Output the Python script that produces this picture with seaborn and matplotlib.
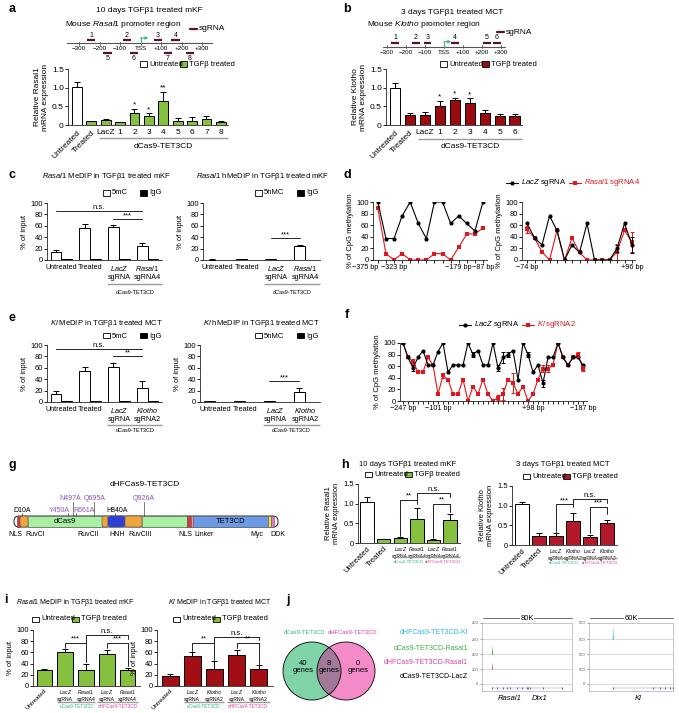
import numpy as np
import pandas as pd
import matplotlib
matplotlib.use('Agg')
import matplotlib.pyplot as plt
import seaborn as sns
from matplotlib.patches import Rectangle, Circle, FancyBboxPatch
from matplotlib.lines import Line2D
from matplotlib.transforms import blended_transform_factory as btf

# ---------------- data ----------------
a_labels = ['Untreated', 'Treated', 'LacZ', '1', '2', '3', '4', '5', '6', '7', '8']
a_vals = [1.03, 0.10, 0.13, 0.07, 0.32, 0.23, 0.65, 0.12, 0.12, 0.17, 0.09]
a_errs = [0.13, 0.01, 0.03, 0.01, 0.12, 0.08, 0.23, 0.07, 0.10, 0.08, 0.01]
a_stars = ['', '', '', '', '*', '*', '**', '', '', '', '']
a_sg_pos = [-241, -66, 85, 171, -161, -32, 134, 241]
a_sg_up = [True, True, True, True, False, False, False, False]
a_sg_names = ['1', '2', '3', '4', '5', '6', '7', '8']
prom_ticks = [-300, -200, -100, 0, 100, 200, 300]
prom_tick_lbls = ['−300', '−200', '−100', 'TSS', '+100', '+200', '+300']

b_labels = ['Untreated', 'Treated', 'LacZ', '1', '2', '3', '4', '5', '6']
b_vals = [1.00, 0.27, 0.28, 0.51, 0.66, 0.58, 0.33, 0.25, 0.24]
b_errs = [0.12, 0.06, 0.08, 0.14, 0.07, 0.13, 0.07, 0.04, 0.05]
b_stars = ['', '', '', '*', '*', '*', '', '', '']
b_sg_pos = [-258, -147, -87, 58, 225, 279]
b_sg_up = [True] * 6
b_sg_names = ['1', '2', '3', '4', '5', '6']

c_5mc = [14, 56, 58, 25]
c_5mc_err = [4, 7, 4, 4]
c_igg = [1.5, 1.2, 1.2, 1.2]
c_5hmc = [0.6, 1.5, 1.2, 25]
c_5hmc_err = [0.3, 0.3, 0.3, 1.5]
c_igg2 = [0.6, 0.6, 0.6, 0.8]
e_5mc = [14, 55, 62, 25]
e_5mc_err = [5, 7, 7, 12]
e_igg = [1.5, 1.2, 1.2, 1.2]
e_5hmc = [2, 1.5, 1, 17]
e_5hmc_err = [0.5, 0.3, 0.3, 8]
e_igg2 = [0.6, 0.6, 0.6, 0.6]

d_left_lacz = [100, 37, 37, 76, 100, 63, 37, 100, 100, 63, 76, 63, 50, 100]
d_left_sg = [89, 11, 0, 11, 0, 0, 0, 11, 11, 0, 22, 45, 45, 55]
d_left_lbl = {0: '−375 bp', 2: '−323 bp', 10: '−179 bp', 13: '−87 bp'}
d_right_lacz = [63, 38, 26, 76, 51, 0, 26, 13, 63, 0, 0, 0, 20, 63, 26]
d_right_lacz_err = [0, 0, 0, 0, 0, 0, 0, 0, 0, 0, 0, 0, 6, 0, 14]
d_right_sg = [53, 38, 14, 0, 51, 0, 38, 13, 0, 0, 0, 0, 14, 51, 31]
d_right_sg_err = [6, 0, 0, 0, 0, 0, 0, 0, 0, 0, 0, 0, 14, 0, 18]
d_right_lbl = {0: '−74 bp', 14: '+96 bp'}

f_lacz = [100, 75, 57, 75, 87, 62, 62, 85, 100, 50, 62, 62, 62, 100, 80, 87, 62, 62, 100,
          57, 75, 80, 87, 37, 100, 80, 50, 62, 31, 75, 75, 100, 75, 62, 75, 75, 62]
f_lacz_err = [0, 0, 5, 0, 0, 0, 0, 0, 0, 0, 0, 0, 0, 0, 5, 0, 0, 0, 0,
              5, 10, 5, 0, 0, 0, 4, 0, 0, 6, 0, 0, 0, 0, 0, 0, 0, 0]
f_sg = [100, 75, 68, 50, 50, 75, 62, 12, 44, 37, 12, 12, 37, 0, 25, 12, 37, 12, 0,
        6, 12, 37, 31, 12, 25, 0, 12, 37, 56, 56, 62, 100, 75, 62, 75, 80, 56]
f_sg_err = [0, 0, 5, 0, 0, 0, 0, 0, 5, 0, 0, 0, 0, 0, 0, 0, 0, 0, 0,
            5, 10, 0, 18, 0, 0, 0, 0, 0, 6, 6, 0, 0, 0, 0, 0, 5, 5]
f_lbl = {0: '−247 bp', 7: '−101 bp', 26: '+98 bp', 36: '−187 bp'}

h_left_vals = [1.03, 0.09, 0.13, 0.60, 0.08, 0.58]
h_left_errs = [0.13, 0.01, 0.02, 0.30, 0.01, 0.15]
h_right_vals = [1.03, 0.22, 0.23, 0.60, 0.21, 0.57]
h_right_errs = [0.06, 0.08, 0.08, 0.22, 0.05, 0.06]

i_left_vals = [28, 60, 29, 58, 29]
i_left_errs = [3, 6, 11, 6, 3]
i_right_vals = [18, 54, 31, 55, 31]
i_right_errs = [3, 7, 14, 10, 7]

venn_counts = ['40', '8', '0']
venn_sets = ['dCas9-TET3CD', 'dHFCas9-TET3CD']
trk_lbls = ['dHFCas9-TET3CD-Kl', 'dCas9-TET3CD-Rasal1', 'dHFCas9-TET3CD-Rasal1', 'dCas9-TET3CD-LacZ']
trk_cols = ['#29b6e6', '#3cb043', '#e040a8', 'black']
pk_track = [0, 0, 1]
pk_row = [1, 2, 0]
pk_kb = [8.9, 8.9, 17]
pk_h = [0.7, 0.55, 0.95]
pk_col = ['#3cb043', '#e040a8', '#29b6e6']
trk_span = [80, 60]
trk_names = ['80K', '60K']
trk_ymax = ['250', '500']
gene_marks = [[8.9, 13, 18.7, 22, 24.9, 31, 35.6, 40, 40.9, 42.7, 54.2, 71],
              [17, 45.7, 50.7, 54.3, 57.8, 60]]

GREEN = '#86c03f'
RED_B = '#9a0b10'
RED_H = '#b3192b'
RED_I = '#a10f14'
RED_L = '#e3151b'
SGC = '#5a1030'
TSSG = '#3cb371'
GRP_G = '#2bb673'
GRP_M = '#e0409a'
PURP = '#8a55b0'

sns.set_theme(style='ticks')
plt.rcParams['font.family'] = ['Liberation Sans', 'DejaVu Sans']
plt.rcParams['mathtext.fontset'] = 'custom'
plt.rcParams['mathtext.rm'] = 'Liberation Sans'
plt.rcParams['mathtext.it'] = 'Liberation Sans:italic'
plt.rcParams['axes.linewidth'] = 0.6
plt.rcParams['text.color'] = 'black'
plt.rcParams['axes.labelcolor'] = 'black'
plt.rcParams['xtick.color'] = 'black'
plt.rcParams['ytick.color'] = 'black'

W, H = 679, 713
fig = plt.figure(figsize=(W / 100, H / 100), dpi=100)


def axpx(x0, y0, x1, y1):
    return fig.add_axes([x0 / W, 1 - y1 / H, (x1 - x0) / W, (y1 - y0) / H])


def T(x, y, s, fs=5.5, ha='center', va='center', **kw):
    fig.text(x / W, 1 - y / H, s, fontsize=fs, ha=ha, va=va, **kw)


def sq(x, y, fc, w=7, h=5):
    fig.add_artist(Rectangle((x / W, 1 - (y + h / 2) / H), w / W, h / H,
                             transform=fig.transFigure, fc=fc, ec='black', lw=0.6))


def legend_px(y, xs, labels, colors, fs=5.5):
    for x, lab, c in zip(xs, labels, colors):
        sq(x, y, c)
        T(x + 9, y, lab, fs=fs, ha='left')


def fline(x0, x1, y, color, lw=0.8, marker=None):
    fig.add_artist(Line2D([x0 / W, x1 / W], [1 - y / H] * 2, transform=fig.transFigure,
                          color=color, lw=lw))
    if marker:
        fig.add_artist(Line2D([(x0 + x1) / 2 / W], [1 - y / H], transform=fig.transFigure,
                              color=color, marker=marker, markersize=3, mew=0))


def it(s):
    return r'$\it{' + s + '}$'


def bar_panel(ax, vals, errs, colors, width):
    ids = [f'b{i}' for i in range(len(vals))]
    df = pd.DataFrame({'id': ids, 'val': vals})
    sns.barplot(data=df, x='id', y='val', hue='id', palette=dict(zip(ids, colors)),
                legend=False, width=width, edgecolor='black', linewidth=0.7,
                errorbar=None, saturation=1, ax=ax)
    ax.errorbar(np.arange(len(vals)), vals, yerr=[np.zeros(len(vals)), errs], fmt='none',
                ecolor='black', elinewidth=0.7, capsize=2, capthick=0.7, zorder=3)


def medip(ax, vals, errs, igg):
    n = len(vals)
    df = pd.DataFrame({'g': np.tile(np.arange(n), 2), 't': ['A'] * n + ['B'] * n,
                       'v': list(vals) + list(igg)})
    sns.barplot(data=df, x='g', y='v', hue='t', palette={'A': 'white', 'B': 'black'},
                width=0.75, edgecolor='black', linewidth=0.7, legend=False,
                errorbar=None, saturation=1, ax=ax)
    xs = [p.get_x() + p.get_width() / 2 for p in ax.containers[0]]
    ax.errorbar(xs, vals, yerr=[np.zeros(n), errs], fmt='none', ecolor='black',
                elinewidth=0.7, capsize=2, capthick=0.7, zorder=3)
    return xs


def style(ax, ylim, yticks, ylbls, fs=5.5):
    sns.despine(ax=ax)
    ax.set_ylim(*ylim)
    ax.set_yticks(yticks)
    ax.set_yticklabels(ylbls)
    ax.tick_params(axis='y', length=2, width=0.6, labelsize=fs, pad=1)
    ax.tick_params(axis='x', length=0, labelsize=fs, pad=3)
    ax.set_xlabel('')
    ax.set_ylabel('')
    ax.patch.set_alpha(0)


def rot_first(ax, n, fs=6):
    for lbl in ax.get_xticklabels()[:n]:
        lbl.set_rotation(45)
        lbl.set_ha('right')
        lbl.set_rotation_mode('anchor')
        lbl.set_fontsize(fs)


def group_line(ax, x0, x1, ypx, text=None, typx=None, fs=5.5, tcolor='black',
               color='#9a9a9a', lw=1.0):
    tr = btf(ax.transData, fig.transFigure)
    ax.plot([x0, x1], [1 - ypx / H] * 2, transform=tr, color=color, lw=lw,
            clip_on=False, solid_capstyle='butt')
    if text:
        ax.text((x0 + x1) / 2, 1 - typx / H, text, transform=tr, ha='center',
                va='center', fontsize=fs, color=tcolor)


def sig(ax, x1, x2, y, txt, drops=None, fs=5.5, dy=0.0):
    if drops:
        ax.plot([x1, x1, x2, x2], [drops[0], y, y, drops[1]], color='black', lw=0.6,
                clip_on=False)
    else:
        ax.plot([x1, x2], [y, y], color='black', lw=0.6, clip_on=False)
    ax.text((x1 + x2) / 2, y + dy, txt, ha='center', va='bottom', fontsize=fs, clip_on=False)


def promoter(box, bp_range, line_bp, line_y, tick_y, sg_pos, sg_up, sg_names,
             up_y, dn_y, nup_y, ndn_y):
    x0, y0, x1, y1 = box
    ax = axpx(x0, y0, x1, y1)
    ax.set_xlim(*bp_range)
    ax.set_ylim(y1, y0)
    ax.axis('off')
    ax.plot(line_bp, [line_y] * 2, color='#555555', lw=0.8)
    for t, l in zip(prom_ticks, prom_tick_lbls):
        ax.plot([t, t], [line_y - 1.5, line_y + 1.5], color='#555555', lw=0.6)
        ax.text(t, tick_y, l, fontsize=4.5, ha='center', va='center')
    ax.plot([0, 0], [line_y, line_y - 5], color=TSSG, lw=0.8)
    ax.annotate('', xy=(38, line_y - 5), xytext=(0, line_y - 5),
                arrowprops=dict(arrowstyle='-|>', color=TSSG, lw=0.8, mutation_scale=4,
                                shrinkA=0, shrinkB=0))
    for p, up, nm in zip(sg_pos, sg_up, sg_names):
        y = up_y if up else dn_y
        ax.plot([p - 20, p + 20], [y, y], color=SGC, lw=1.6, solid_capstyle='butt')
        ax.text(p, nup_y if up else ndn_y, nm, fontsize=5, ha='center', va='center')
    return ax


def cpg(ax, lacz, sg, lacz_err, sg_err, lbls, xlim, ha_over=None):
    n = len(lacz)
    x = np.arange(n)
    sns.lineplot(x=x, y=sg, color=RED_L, marker='s', markersize=2.8, markeredgewidth=0,
                 linewidth=0.8, ax=ax)
    sns.lineplot(x=x, y=lacz, color='black', marker='o', markersize=3, markeredgewidth=0,
                 linewidth=0.8, ax=ax)
    for vals, errs, c in ((sg, sg_err, RED_L), (lacz, lacz_err, 'black')):
        idx = [i for i in range(n) if errs[i] > 0]
        if idx:
            ax.errorbar(idx, [vals[i] for i in idx], yerr=[errs[i] for i in idx], fmt='none',
                        ecolor=c, elinewidth=0.7, capsize=1.5, capthick=0.7)
    sns.despine(ax=ax)
    ax.set_xlim(*xlim)
    ax.set_ylim(0, 100)
    ax.set_yticks(range(0, 101, 20))
    ax.set_xticks(x)
    ax.set_xticklabels([lbls.get(i, '') for i in range(n)])
    ax.tick_params(axis='x', length=2, width=0.6, labelsize=5.2, pad=1)
    ax.tick_params(axis='y', length=2, width=0.6, labelsize=5.5, pad=1)
    if ha_over:
        tl = ax.get_xticklabels()
        for i, h in ha_over.items():
            tl[i].set_ha(h)
    ax.set_ylabel('% of CpG methylation', fontsize=5.5, labelpad=2)
    ax.set_xlabel('')
    ax.patch.set_alpha(0)


# ---------------- panel a ----------------
T(12, 9, 'a', fs=9, weight='bold')
T(149, 11, '10 days TGFβ1 treated mKF', fs=6)
T(65, 25, 'Mouse ' + it('Rasal1') + ' promoter region', fs=6, ha='left')
sc_a = 0.205
promoter((60, 26, 215, 62), ((60 - 140.5) / sc_a, (215 - 140.5) / sc_a),
         [(67 - 140.5) / sc_a, (212 - 140.5) / sc_a], 43, 49,
         a_sg_pos, a_sg_up, a_sg_names, 40, 52.5, 35.5, 58)
fline(190, 197, 28.5, SGC, lw=1.6)
T(199, 28.5, 'sgRNA', fs=6, ha='left')
legend_px(64, [140, 180], ['Untreated', 'TGFβ treated'], ['white', GREEN])
axA = axpx(68, 69, 228, 125)
bar_panel(axA, a_vals, a_errs, ['white'] + [GREEN] * 10, width=0.68)
style(axA, (0, 1.5), [0, 0.5, 1.0, 1.5], ['0', '0.5', '1.0', '1.5'], fs=6)
axA.set_xlim(-0.62, 10.5)
axA.set_xticks(range(len(a_labels)))
axA.set_xticklabels(a_labels)
rot_first(axA, 2)
for i, s in enumerate(a_stars):
    if s:
        axA.text(i, a_vals[i] + a_errs[i] + 0.01, s, ha='center', va='bottom', fontsize=6)
axA.set_ylabel('Relative Rasal1\nmRNA expression', fontsize=6, labelpad=2)
group_line(axA, 1.55, 10.5, 138, 'dCas9-TET3CD', 146, fs=6)

# ---------------- panel b ----------------
T(347, 9, 'b', fs=9, weight='bold')
T(452, 12, '3 days TGFβ1 treated MCT', fs=6)
T(367, 25, 'Mouse ' + it('Klotho') + ' promoter region', fs=6, ha='left')
sc_b = 0.19
promoter((378, 26, 512, 62), ((378 - 444) / sc_b, (512 - 444) / sc_b),
         [(383 - 444) / sc_b, (505 - 444) / sc_b], 46.7, 53,
         b_sg_pos, b_sg_up, b_sg_names, 42.7, 52, 37.7, 58)
fline(497, 504, 32, SGC, lw=1.6)
T(506, 32, 'sgRNA', fs=6, ha='left')
legend_px(64, [440, 482], ['Untreated', 'TGFβ treated'], ['white', RED_B])
axB = axpx(386, 69, 522, 125)
bar_panel(axB, b_vals, b_errs, ['white'] + [RED_B] * 8, width=0.68)
style(axB, (0, 1.5), [0, 0.5, 1.0, 1.5], ['0', '0.5', '1.0', '1.5'], fs=6)
axB.set_xlim(-0.6, 8.5)
axB.set_xticks(range(len(b_labels)))
axB.set_xticklabels(b_labels)
rot_first(axB, 2)
for i, s in enumerate(b_stars):
    if s:
        axB.text(i, b_vals[i] + b_errs[i] + 0.01, s, ha='center', va='bottom', fontsize=6)
axB.set_ylabel('Relative Klotho\nmRNA expression', fontsize=6, labelpad=2)
group_line(axB, 1.55, 8.5, 139, 'dCas9-TET3CD', 146, fs=6)

# ---------------- panel c ----------------
T(12, 175, 'c', fs=9, weight='bold')
T(106, 177, it('Rasal1') + ' MeDIP in TGFβ1 treated mKF', fs=5.5)
T(263, 177, it('Rasal1') + ' hMeDIP in TGFβ1 treated mKF', fs=5.5)
legend_px(193, [103, 140], ['5mC', 'IgG'], ['white', 'black'])
legend_px(193, [255, 297], ['5hMC', 'IgG'], ['white', 'black'])
c_xl = ['Untreated', 'Treated', it('LacZ') + '\nsgRNA', it('Rasal1') + '\nsgRNA4']
yt = list(range(0, 101, 20))
ytl = [str(v) for v in yt]

axC1 = axpx(47, 203, 162, 260)
xs = medip(axC1, c_5mc, c_5mc_err, c_igg)
style(axC1, (0, 100), yt, ytl)
axC1.set_xlim(-0.5, 3.5)
axC1.set_xticks(range(4))
axC1.set_xticklabels(c_xl, fontsize=5.2)
sig(axC1, xs[0], xs[3], 86, 'n.s.')
sig(axC1, xs[2], xs[3], 72, '***')
axC1.set_ylabel('% of input', fontsize=5.5, labelpad=2)
group_line(axC1, 1.6, 3.5, 284, 'dCas9-TET3CD', 292, fs=4)

axC2 = axpx(203, 203, 320, 260)
xs = medip(axC2, c_5hmc, c_5hmc_err, c_igg2)
style(axC2, (0, 100), yt, ytl)
axC2.set_xlim(-0.5, 3.5)
axC2.set_xticks(range(4))
axC2.set_xticklabels(c_xl, fontsize=5.2)
sig(axC2, xs[2], xs[3], 38, '***')
axC2.set_ylabel('% of input', fontsize=5.5, labelpad=2)
group_line(axC2, 1.6, 3.5, 284, 'dCas9-TET3CD', 292, fs=4)

# ---------------- panel e ----------------
T(12, 318, 'e', fs=9, weight='bold')
T(106, 323, it('Kl') + ' MeDIP in TGFβ1 treated MCT', fs=5.5)
T(261, 323, it('Kl') + ' hMeDIP in TGFβ1 treated MCT', fs=5.5)
legend_px(336, [103, 140], ['5mC', 'IgG'], ['white', 'black'])
legend_px(336, [255, 297], ['5hMC', 'IgG'], ['white', 'black'])
e_xl = ['Untreated', 'Treated', it('LacZ') + '\nsgRNA', it('Klotho') + '\nsgRNA2']

axE1 = axpx(47, 345, 162, 402)
xs = medip(axE1, e_5mc, e_5mc_err, e_igg)
style(axE1, (0, 100), yt, ytl)
axE1.set_xlim(-0.5, 3.5)
axE1.set_xticks(range(4))
axE1.set_xticklabels(e_xl, fontsize=5.2)
sig(axE1, xs[0], xs[3], 93, 'n.s.')
sig(axE1, xs[2], xs[3], 80, '**')
axE1.set_ylabel('% of input', fontsize=5.5, labelpad=2)
group_line(axE1, 1.6, 3.5, 425, 'dCas9-TET3CD', 431, fs=4)

axE2 = axpx(200, 345, 320, 402)
xs = medip(axE2, e_5hmc, e_5hmc_err, e_igg2)
style(axE2, (0, 100), yt, ytl)
axE2.set_xlim(-0.5, 3.5)
axE2.set_xticks(range(4))
axE2.set_xticklabels(e_xl, fontsize=5.2)
sig(axE2, xs[2], xs[3], 36, '***')
axE2.set_ylabel('% of input', fontsize=5.5, labelpad=2)
group_line(axE2, 1.6, 3.5, 425, 'dCas9-TET3CD', 431, fs=4)

# ---------------- panel d ----------------
T(347, 175, 'd', fs=9, weight='bold')
fline(506, 518, 183, 'black', marker='o')
T(521, 183, it('LacZ') + ' sgRNA', fs=5.5, ha='left')
fline(569, 581, 183, RED_L, marker='s')
T(584, 183, it('Rasal1') + ' sgRNA4', fs=5.5, ha='left', color=RED_L)
axD1 = axpx(373, 202, 487, 260)
cpg(axD1, d_left_lacz, d_left_sg, [0] * 14, [0] * 14, d_left_lbl, (-0.6, 13.5),
    ha_over={0: 'right', 2: 'center', 10: 'center', 13: 'center'})
axD2 = axpx(522, 202, 635, 260)
cpg(axD2, d_right_lacz, d_right_sg, d_right_lacz_err, d_right_sg_err, d_right_lbl, (-0.67, 14.4))

# ---------------- panel f ----------------
T(347, 315, 'f', fs=9, weight='bold')
fline(459, 471, 325, 'black', marker='o')
T(474, 325, it('LacZ') + ' sgRNA', fs=5.5, ha='left')
fline(522, 534, 325, RED_L, marker='s')
T(537, 325, it('Kl') + ' sgRNA2', fs=5.5, ha='left', color=RED_L)
axF = axpx(400, 343, 587, 401)
cpg(axF, f_lacz, f_sg, f_lacz_err, f_sg_err, f_lbl, (-0.6, 36.8))

# ---------------- panel g ----------------
T(12, 465, 'g', fs=9, weight='bold')
T(145, 485, 'dHFCas9-TET3CD', fs=6)
g_dom_start = [17, 20, 28, 102, 108, 125, 142, 187, 191, 193, 268, 271]
g_dom_end = [20, 28, 102, 108, 125, 142, 187, 191, 193, 268, 271, 274]
g_dom_color = ['#d8343c', '#f0a53a', '#a9efa2', '#f0a53a', '#2f3fd6', '#f0a53a',
               '#a9efa2', '#d8343c', '#f29a9a', '#6b9be6', '#f2e24a', '#e07ac8']
g_dom_round = [0, 1, 0, 1, 1, 1, 0, 0, 0, 0, 0, 0]
g_dom_text = ['', '', 'dCas9', '', '', '', '', '', '', 'TET3CD', '', '']
g_lbls = ['NLS', 'RuvCI', 'RuvCII', 'HNH', 'RuvCIII', 'NLS', 'Linker', 'Myc', 'DDK']
g_lbl_x = [15, 35, 88, 117, 140, 185, 204, 257, 278]
g_mut = ['D10A', 'Y450A', 'N497A', 'R661A', 'Q695A', 'H840A', 'Q926A']
g_mut_x = [22, 68, 72.7, 75.5, 94, 115, 144]
g_mut_lx = [22, 59, 70, 84.5, 95, 117, 144]
g_mut_row = [1, 1, 0, 1, 0, 1, 0]
g_mut_col = ['black', PURP, PURP, PURP, PURP, 'black', PURP]
axG = axpx(5, 478, 292, 545)
axG.set_xlim(5, 292)
axG.set_ylim(545, 478)
axG.axis('off')
axG.add_patch(FancyBboxPatch((14, 516), 264, 11, boxstyle='round,pad=0,rounding_size=5',
                             fc='white', ec='black', lw=0.6))
for s, e, c, r, t in zip(g_dom_start, g_dom_end, g_dom_color, g_dom_round, g_dom_text):
    if r:
        axG.add_patch(FancyBboxPatch((s, 516), e - s, 11,
                                     boxstyle='round,pad=0,rounding_size=2.5',
                                     fc=c, ec='#555555', lw=0.4))
    else:
        axG.add_patch(Rectangle((s, 516), e - s, 11, fc=c, ec='#555555', lw=0.4))
    if t:
        axG.text((s + e) / 2, 521.5, t, fontsize=5.5, ha='center', va='center')
for lab, x in zip(g_lbls, g_lbl_x):
    axG.text(x, 535, lab, fontsize=5, ha='center', va='center')
for lab, x, lx, row, c in zip(g_mut, g_mut_x, g_mut_lx, g_mut_row, g_mut_col):
    ly = 499 if row == 0 else 510
    axG.plot([x, x], [ly + 3, 516], color='#444444', lw=0.5)
    axG.text(lx, ly, lab, fontsize=5, ha='center', va='center', color=c)

# ---------------- panel h ----------------
T(345, 465, 'h', fs=9, weight='bold')
h_xl_l = ['Untreated', 'Treated', it('LacZ') + '\nsgRNA', it('Rasal1') + '\nsgRNA4',
          it('LacZ') + '\nsgRNA', it('Rasal1') + '\nsgRNA4']
h_xl_r = ['Untreated', 'Treated', it('LacZ') + '\nsgRNA', it('Klotho') + '\nsgRNA2',
          it('LacZ') + '\nsgRNA', it('Klotho') + '\nsgRNA2']

T(408, 464, '10 days TGFβ1 treated mKF', fs=5.5)
legend_px(474, [365, 405], ['Untreated', 'TGFβ treated'], ['white', GREEN])
axHL = axpx(358, 484, 460, 543)
bar_panel(axHL, h_left_vals, h_left_errs, ['white'] + [GREEN] * 5, width=0.8)
style(axHL, (0, 1.5), [0, 0.5, 1.0, 1.5], ['0', '0.5', '1.0', '1.5'])
axHL.tick_params(axis='x', pad=1.5)
axHL.set_xlim(-0.55, 5.6)
axHL.set_xticks(range(6))
axHL.set_xticklabels(h_xl_l)
for lbl in axHL.get_xticklabels()[2:]:
    lbl.set_fontsize(3.6)
rot_first(axHL, 2, fs=5.5)
axHL.set_ylabel('Relative Rasal1\nmRNA expression', fontsize=5.5, labelpad=2)
sig(axHL, 2, 3, 1.1, '**', drops=(0.17, 1.0))
sig(axHL, 3, 5, 1.27, 'n.s.', drops=(1.1, 1.17))
sig(axHL, 4, 5, 1.0, '**', drops=(0.13, 0.8))
group_line(axHL, 1.55, 3.45, 557, 'dCas9-TET3CD', 562, fs=3.1, tcolor=GRP_G)
group_line(axHL, 3.55, 5.6, 557, 'dHFCas9-TET3CD', 562, fs=3.1, tcolor=GRP_M)

T(563, 464, '3 days TGFβ1 treated MCT', fs=5.5)
legend_px(476, [523, 563], ['Untreated', 'TGFβ treated'], ['white', RED_H])
axHR = axpx(512, 486, 617, 545)
bar_panel(axHR, h_right_vals, h_right_errs, ['white'] + [RED_H] * 5, width=0.8)
style(axHR, (0, 1.5), [0, 0.5, 1.0, 1.5], ['0', '0.5', '1.0', '1.5'])
axHR.tick_params(axis='x', pad=1.5)
axHR.set_xlim(-0.6, 5.6)
axHR.set_xticks(range(6))
axHR.set_xticklabels(h_xl_r)
for lbl in axHR.get_xticklabels()[2:]:
    lbl.set_fontsize(3.6)
rot_first(axHR, 2, fs=5.5)
axHR.set_ylabel('Relative Klotho\nmRNA expression', fontsize=5.5, labelpad=2)
sig(axHR, 2, 3, 1.04, '***', drops=(0.33, 0.97))
sig(axHR, 3, 5, 1.16, 'n.s.', drops=(1.04, 1.07))
sig(axHR, 4, 5, 0.97, '***', drops=(0.3, 0.8))
group_line(axHR, 1.55, 3.45, 558, 'dCas9-TET3CD', 563, fs=3.1, tcolor=GRP_G)
group_line(axHR, 3.55, 5.6, 558, 'dHFCas9-TET3CD', 563, fs=3.1, tcolor=GRP_M)

# ---------------- panel i ----------------
T(6, 600, 'i', fs=9, weight='bold')
i_xl_l = ['Untreated', it('LacZ') + '\nsgRNA', it('Rasal1') + '\nsgRNA4',
          it('LacZ') + '\nsgRNA', it('Rasal1') + '\nsgRNA4']
i_xl_r = ['Untreated', it('LacZ') + '\nsgRNA', it('Klotho') + '\nsgRNA2',
          it('LacZ') + '\nsgRNA', it('Klotho') + '\nsgRNA2']

T(75, 603, it('Rasal1') + ' MeDIP in TGFβ1 treated mKF', fs=5)
legend_px(619, [32, 72], ['Untreated', 'TGFβ treated'], ['white', GREEN])
axIL = axpx(33, 630, 140, 686)
bar_panel(axIL, i_left_vals, i_left_errs, [GREEN] * 5, width=0.75)
style(axIL, (0, 100), yt, ytl)
axIL.tick_params(axis='x', pad=1.5)
axIL.set_xlim(-0.55, 4.6)
axIL.set_xticks(range(5))
axIL.set_xticklabels(i_xl_l)
for lbl in axIL.get_xticklabels()[1:]:
    lbl.set_fontsize(3.6)
rot_first(axIL, 1, fs=4.5)
axIL.set_ylabel('% of input', fontsize=5.5, labelpad=2)
sig(axIL, 1, 2, 77, '***', drops=(68, 42))
sig(axIL, 2, 4, 91, 'n.s.', drops=(77, 84))
sig(axIL, 3, 4, 77, '***', drops=(67, 35))
group_line(axIL, 0.6, 2.45, 702, 'dCas9-TET3CD', 707, fs=3.4, tcolor=GRP_G)
group_line(axIL, 2.55, 4.5, 702, 'dHFCas9-TET3CD', 707, fs=3.4, tcolor=GRP_M)

T(220, 603, it('Kl') + ' MeDIP in TGFβ1 treated MCT', fs=5)
legend_px(619, [173, 213], ['Untreated', 'TGFβ treated'], ['white', GREEN])
axIR = axpx(157, 630, 273, 686)
bar_panel(axIR, i_right_vals, i_right_errs, [RED_I] * 5, width=0.75)
style(axIR, (0, 100), yt, ytl)
axIR.tick_params(axis='x', pad=1.5)
axIR.set_xlim(-0.6, 4.65)
axIR.set_xticks(range(5))
axIR.set_xticklabels(i_xl_r)
for lbl in axIR.get_xticklabels()[1:]:
    lbl.set_fontsize(3.6)
rot_first(axIR, 1, fs=4.5)
axIR.set_ylabel('% of input', fontsize=5.5, labelpad=2)
sig(axIR, 1, 2, 77, '**', drops=(63, 47))
sig(axIR, 2, 4, 88, 'n.s.', drops=(77, 82))
sig(axIR, 3, 4, 77, '**', drops=(67, 40))
group_line(axIR, 0.6, 2.45, 702, 'dCas9-TET3CD', 707, fs=3.4, tcolor=GRP_G)
group_line(axIR, 2.55, 4.5, 702, 'dHFCas9-TET3CD', 707, fs=3.4, tcolor=GRP_M)

# ---------------- panel j ----------------
T(288, 600, 'j', fs=9, weight='bold')
axJ = axpx(270, 625, 400, 713)
axJ.set_xlim(270, 400)
axJ.set_ylim(713, 625)
axJ.axis('off')
cL = Circle((312, 671), 29, fc='#7fd3a6', ec='none')
cR = Circle((346, 671), 29, fc='#f38bc9', ec='none')
cO = Circle((346, 671), 29, fc='#a07a98', ec='none')
axJ.add_patch(cL)
axJ.add_patch(cR)
axJ.add_patch(cO)
cO.set_clip_path(cL)
axJ.add_patch(Circle((312, 671), 29, fc='none', ec='black', lw=0.6))
axJ.add_patch(Circle((346, 671), 29, fc='none', ec='black', lw=0.6))
T(305, 633, venn_sets[0], fs=4.2, color=GRP_G)
T(353, 633, venn_sets[1], fs=4.2, color=GRP_M)
for x, cnt in zip([303, 329, 358], venn_counts):
    T(x, 667, cnt + '\ngenes', fs=5.5, linespacing=1.0)

for lab, c, y in zip(trk_lbls, trk_cols, [632, 648, 663, 677]):
    T(468, y, lab, fs=5, ha='right', color=c)

row_base = [3.8, 2.7, 1.6, 0.55]
trk_boxes = [(482, 572), (589, 673)]
for t, (x0, x1) in enumerate(trk_boxes):
    ax = axpx(x0, 623, x1, 691)
    ax.set_xlim(0, trk_span[t])
    ax.set_ylim(0, 5)
    for sp in ax.spines.values():
        sp.set_linewidth(0.4)
        sp.set_color('#999999')
    for yb in row_base:
        ax.axhline(yb, color='#bbbbbb', lw=0.4)
    ax.set_xticks([])
    ax.set_yticks([5] + row_base)
    ax.set_yticklabels([trk_ymax[t]] * 4 + ['0'])
    ax.tick_params(axis='y', length=1.5, width=0.4, labelsize=3, pad=1, colors='#555555')
    for tr_i, r, kb, hh, c in zip(pk_track, pk_row, pk_kb, pk_h, pk_col):
        if tr_i == t:
            xx = np.array([-0.6, -0.3, 0, 0.3, 0.6]) * trk_span[t] / 80 + kb
            base = row_base[r]
            ax.fill_between(xx, base, base + hh * np.array([0, 0.45, 1, 0.45, 0]), color=c, lw=0)
    ax.plot(gene_marks[t], [0.25] * len(gene_marks[t]), '|', color='#3040a0',
            markersize=2, mew=0.6)
    ax.plot([gene_marks[t][0], gene_marks[t][-1]], [0.25, 0.25], color='#8090c0', lw=0.3)
    fline(x0 + 1, x1, 618, '#555555', lw=0.6)
    T((x0 + x1) / 2, 618, trk_names[t], fs=5.5,
      bbox=dict(fc='white', ec='none', pad=0.5))
T(510, 698, 'Rasal1', fs=5.5, style='italic')
T(540, 698, 'Dtx1', fs=5.5, style='italic')
T(638, 698, 'Kl', fs=5.5, style='italic')

fig.savefig('out.png', dpi=100)
